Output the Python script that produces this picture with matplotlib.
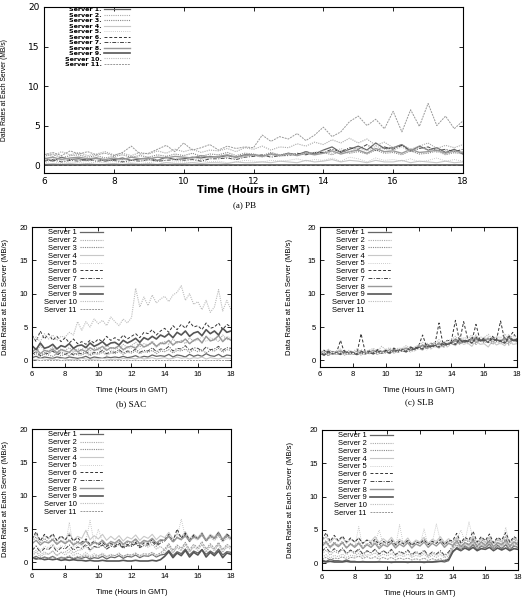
import numpy as np
import matplotlib
matplotlib.use("Agg")
import matplotlib.pyplot as plt

# time axis: every 15 minutes, 6:00 to 18:00 GMT
HOURS = np.arange(6, 18.01, 0.25)
SERVERS = [f"Server {i}" for i in range(1, 12)]
XTICKS = [6, 8, 10, 12, 14, 16, 18]
YTICKS = [0, 5, 10, 15, 20]

# (a) PB -- rows are servers 1..11 (MB/s)
PB = [
    [0.9,0.5,1.0,0.7, 0.8,0.6,0.9,0.5, 0.7,0.9,0.6,0.8, 0.9,0.6,1.0,0.7, 0.8,1.0,0.9,1.1, 1.0,1.2,1.0,1.3, 1.3,1.1,1.4,1.2, 1.5,1.3,1.7,1.4, 1.9,2.3,1.6,2.0, 2.4,1.9,2.8,2.1, 2.2,2.6,1.8,2.4, 1.9,2.2,1.6,2.0, 1.4],
    [1.5,1.1,1.7,1.3, 1.6,1.2,1.4,1.7, 1.3,1.5,1.2,1.6, 1.4,1.8,1.5,2.0, 1.7,2.0,1.6,1.9, 1.8,2.1,1.7,2.2, 2.0,2.4,1.9,2.3, 2.2,2.7,2.4,2.9, 2.6,3.2,2.8,3.4, 2.8,3.3,2.5,2.9, 2.2,2.6,2.0,2.4, 2.8,2.1,2.5,2.2, 2.6],
    [1.1,1.4,0.9,1.2, 1.3,1.0,1.2,0.9, 1.1,1.3,1.0,1.2, 1.0,1.3,1.1,1.4, 1.2,1.5,1.1,1.4, 1.3,1.6,1.2,1.5, 1.4,1.2,1.6,1.3, 1.5,1.3,1.7,1.4, 1.6,1.3,1.8,1.5, 1.7,1.4,1.9,1.5, 1.6,1.3,1.8,1.4, 1.5,1.8,1.3,1.6, 1.4],
    [0.1,0.2,0.1,0.2, 0.1,0.2,0.1,0.1, 0.2,0.1,0.2,0.1, 0.2,0.1,0.3,0.2, 0.2,0.3,0.2,0.3, 0.3,0.2,0.4,0.3, 0.3,0.4,0.3,0.5, 0.4,0.3,0.6,0.4, 0.5,0.7,0.4,0.6, 0.5,0.3,0.6,0.4, 0.4,0.6,0.3,0.5, 0.4,0.3,0.5,0.3, 0.4],
    [0.3,0.5,0.2,0.4, 0.3,0.2,0.4,0.3, 0.2,0.4,0.3,0.2, 0.3,0.5,0.3,0.4, 0.4,0.3,0.5,0.4, 0.5,0.3,0.4,0.6, 0.5,0.4,0.6,0.5, 0.6,0.8,0.5,0.7, 0.6,0.9,0.5,1.0, 0.8,0.4,0.9,0.6, 0.7,0.5,0.8,0.4, 0.6,0.9,0.5,0.7, 0.5],
    [0.0] * 49,
    [0.5,0.7,0.4,0.6, 0.5,0.7,0.5,0.6, 0.6,0.4,0.6,0.5, 0.7,0.5,0.6,0.7, 0.6,0.7,0.5,0.8, 0.8,0.9,0.7,1.0, 1.1,1.3,1.0,1.2, 1.2,1.5,1.3,1.6, 1.6,2.0,1.7,2.2, 2.0,2.6,1.8,2.3, 2.0,2.5,1.7,2.1, 2.3,1.8,2.0,1.7, 2.0],
    [0.8,1.0,0.7,0.9, 1.0,0.8,0.9,0.7, 0.9,0.7,1.0,0.8, 0.8,1.0,0.9,1.1, 1.0,0.9,1.2,1.0, 1.1,1.3,1.0,1.2, 1.3,1.1,1.4,1.2, 1.4,1.2,1.5,1.3, 1.5,1.8,1.4,1.7, 1.9,1.5,2.1,1.7, 1.8,1.5,2.0,1.6, 1.7,1.9,1.5,1.8, 1.6],
    [0.0] * 49,
    [0.6,0.8,0.5,0.7, 0.6,0.5,0.7,0.6, 0.5,0.7,0.6,0.5, 0.6,0.7,0.6,0.8, 0.6,0.8,0.7,0.9, 0.9,1.0,0.8,1.1, 1.2,1.0,1.3,1.1, 1.4,1.3,1.5,1.6, 1.8,1.5,2.1,1.7, 2.2,1.8,2.4,2.0, 1.9,2.3,1.7,2.2, 2.0,1.6,1.9,1.5, 1.7],
    [1.3,1.6,1.2,1.8, 1.4,1.7,1.3,1.5, 1.2,1.6,2.4,1.4, 1.5,2.0,2.5,1.7, 2.8,1.9,2.2,2.6, 1.9,2.4,2.1,2.3, 2.2,3.8,3.0,3.6, 3.3,4.0,3.1,3.8, 4.8,3.6,4.2,5.5, 6.2,5.0,5.8,4.6, 6.8,4.2,7.0,4.9, 7.8,5.0,6.2,4.6, 5.6],
]

# (b) SAC
SAC = [
    [0.4,0.6,0.3,0.5, 0.4,0.3,0.5,0.4, 0.3,0.5,0.4,0.3, 0.4,0.6,0.3,0.5, 0.4,0.3,0.5,0.4, 0.5,0.4,0.6,0.4, 0.5,0.7,0.4,0.6, 0.5,0.8,0.6,0.7, 0.6,0.9,0.5,0.8, 0.7,0.5,0.9,0.6, 0.8,0.6,1.0,0.7, 0.6,0.9,0.5,0.8, 0.7],
    [1.8,1.2,2.2,1.5, 1.4,2.0,1.3,1.7, 1.5,1.9,1.2,1.7, 1.6,2.1,1.4,1.8, 1.9,1.5,2.3,1.7, 2.0,1.6,2.4,1.9, 2.2,2.7,2.0,2.5, 2.3,2.9,2.1,2.6, 2.8,2.4,3.2,2.6, 3.0,2.5,3.4,2.8, 3.2,2.7,3.6,3.0, 3.3,2.8,3.8,3.1, 3.2],
    [0.7,1.0,0.6,0.9, 0.8,0.6,1.0,0.7, 0.9,0.7,1.1,0.8, 0.8,1.1,0.7,1.0, 0.9,1.2,0.8,1.1, 1.0,1.3,0.9,1.2, 1.1,1.4,1.0,1.3, 1.2,1.5,1.0,1.4, 1.3,1.6,1.1,1.5, 1.4,1.7,1.2,1.6, 1.3,1.6,1.1,1.5, 1.4,1.8,1.2,1.6, 1.5],
    [0.2,0.1,0.3,0.2, 0.1,0.2,0.1,0.3, 0.2,0.1,0.2,0.1, 0.3,0.2,0.1,0.2, 0.2,0.3,0.2,0.1, 0.2,0.1,0.3,0.2, 0.3,0.2,0.4,0.2, 0.3,0.4,0.2,0.3, 0.4,0.2,0.3,0.5, 0.3,0.4,0.2,0.4, 0.3,0.5,0.2,0.4, 0.3,0.2,0.4,0.3, 0.3],
    [1.0,1.4,0.9,1.2, 1.1,1.5,1.0,1.3, 1.2,1.0,1.5,1.1, 1.3,1.6,1.1,1.4, 1.5,1.2,1.8,1.4, 1.6,2.0,1.4,1.8, 1.8,2.2,1.6,2.0, 2.1,2.6,1.9,2.4, 2.4,2.9,2.2,2.7, 2.7,3.2,2.4,3.0, 3.0,3.6,2.8,3.4, 3.2,3.9,3.0,3.6, 3.4],
    [3.8,2.8,4.4,3.2, 4.0,3.0,3.6,2.8, 3.4,2.6,3.2,2.5, 2.8,2.4,3.0,2.6, 3.2,2.8,3.6,3.0, 3.4,3.0,3.8,3.2, 3.6,4.0,3.4,4.2, 4.0,4.6,3.8,4.4, 4.8,4.2,5.2,4.6, 5.4,4.8,5.8,5.0, 5.2,4.6,5.6,4.8, 5.0,5.6,4.6,5.4, 5.0],
    [0.9,1.3,0.7,1.1, 1.0,1.4,0.8,1.2, 0.9,1.2,0.8,1.1, 1.0,1.3,0.9,1.2, 1.1,1.5,1.0,1.3, 1.2,1.6,1.1,1.4, 1.3,1.7,1.2,1.5, 1.4,1.9,1.3,1.7, 1.6,2.1,1.4,1.8, 1.7,2.2,1.5,1.9, 1.8,1.4,2.0,1.6, 1.7,2.1,1.5,1.9, 1.8],
    [1.2,1.8,1.0,1.5, 1.3,1.7,1.1,1.6, 1.4,1.2,1.8,1.3, 1.6,1.3,1.9,1.5, 1.7,2.1,1.5,1.9, 1.8,2.2,1.6,2.0, 2.1,1.8,2.5,2.0, 2.3,2.7,2.1,2.6, 2.5,3.0,2.3,2.8, 2.7,3.2,2.5,3.0, 3.3,2.6,3.6,2.9, 3.1,3.7,2.8,3.4, 3.0],
    [2.2,1.6,2.6,1.8, 2.0,2.4,1.7,2.2, 2.0,2.5,1.8,2.2, 2.3,1.9,2.6,2.1, 2.4,2.8,2.2,2.6, 2.7,2.3,3.0,2.6, 2.9,3.3,2.7,3.4, 3.1,3.6,3.2,3.8, 3.5,4.0,3.4,4.2, 3.8,4.4,3.6,4.1, 4.3,3.7,4.6,4.0, 4.4,3.8,4.8,4.2, 4.4],
    [3.0,3.5,2.8,4.0, 3.2,3.8,3.0,3.6, 3.5,4.2,3.8,5.8, 4.5,5.8,5.0,6.2, 5.5,6.0,5.2,6.5, 5.8,5.2,6.2,5.6, 6.4,10.8,8.0,9.5, 8.2,9.8,8.6,9.2, 9.6,8.8,9.8,10.2, 11.2,9.0,10.0,8.4, 8.8,7.6,9.0,7.2, 8.0,10.6,7.4,9.0, 7.6],
    [0.0] * 49,
]

# (c) SLB
SLB = [
    [1.0,1.4,0.8,1.2, 1.0,1.3,0.9,1.1, 1.2,0.9,1.3,1.0, 1.1,1.4,1.0,1.2, 1.3,1.1,1.5,1.3, 1.5,1.8,1.4,1.7, 1.9,2.3,1.8,2.2, 2.1,2.6,2.0,2.5, 2.7,3.2,2.6,3.0, 2.8,3.4,2.7,3.1, 2.9,3.3,2.6,3.2, 2.8,3.4,2.7,3.1, 3.0],
    [1.3,0.8,1.6,1.0, 1.4,0.9,1.5,1.1, 1.3,1.0,1.6,1.2, 1.5,1.1,1.7,1.3, 1.6,1.2,1.9,1.4, 1.8,1.4,2.1,1.6, 2.2,1.8,2.6,2.0, 2.5,2.0,2.9,2.3, 3.0,2.5,3.6,2.8, 3.3,2.6,3.8,2.9, 3.4,2.7,3.6,3.0, 3.2,2.8,3.9,3.1, 3.3],
    [0.8,1.2,0.7,1.1, 0.9,1.3,0.8,1.0, 0.9,1.2,0.8,1.1, 1.0,1.3,0.9,1.2, 1.1,1.4,1.2,1.5, 1.4,1.7,1.3,1.6, 1.7,2.1,1.6,2.0, 2.0,2.4,1.9,2.3, 2.4,2.9,2.3,2.8, 2.5,3.0,2.4,2.9, 2.6,3.1,2.4,2.8, 2.5,3.0,2.3,2.9, 2.7],
    [1.1,0.7,1.3,0.9, 1.0,1.4,0.8,1.2, 1.1,0.8,1.3,1.0, 1.2,0.9,1.4,1.1, 1.3,1.0,1.5,1.2, 1.5,1.2,1.8,1.4, 1.8,1.5,2.2,1.7, 2.2,1.8,2.5,2.0, 2.5,2.2,2.9,2.4, 2.6,2.1,3.0,2.4, 2.5,2.0,2.9,2.3, 2.6,2.2,3.0,2.4, 2.5],
    [1.2,1.6,1.0,1.4, 1.2,1.6,1.0,1.3, 1.1,1.5,1.0,1.3, 1.3,1.7,1.1,1.5, 1.4,1.8,1.3,1.6, 1.6,2.0,1.5,1.9, 2.0,2.4,1.9,2.3, 2.4,2.8,2.2,2.6, 2.8,3.3,2.6,3.1, 3.0,3.5,2.8,3.2, 3.1,3.6,2.9,3.3, 3.0,3.5,2.8,3.4, 3.2],
    [1.0,1.5,0.9,1.3, 1.1,3.0,1.0,1.4, 1.2,1.0,4.0,1.3, 1.4,1.1,1.6,1.3, 1.5,1.3,1.8,1.5, 1.7,1.5,2.0,1.8, 2.1,3.8,2.0,2.5, 2.4,5.6,2.3,3.0, 2.9,6.0,2.8,5.8, 3.2,2.9,5.4,3.0, 3.3,2.8,3.6,3.1, 5.9,3.0,3.4,4.2, 3.2],
    [1.2,0.9,1.4,1.0, 1.3,1.0,1.5,1.1, 1.2,1.0,1.4,1.1, 1.3,1.1,1.5,1.2, 1.4,1.2,1.6,1.4, 1.6,1.4,1.9,1.7, 2.0,1.8,2.4,2.1, 2.3,2.1,2.7,2.4, 2.7,2.5,3.2,2.9, 3.0,2.7,3.5,3.0, 3.1,2.8,3.4,3.0, 3.0,2.7,3.6,3.1, 3.1],
    [0.9,1.3,0.8,1.2, 1.0,1.4,0.9,1.1, 1.0,1.3,0.9,1.2, 1.1,1.5,1.0,1.3, 1.2,1.6,1.1,1.4, 1.4,1.8,1.3,1.6, 1.8,2.2,1.7,2.1, 2.1,2.6,2.0,2.4, 2.5,3.0,2.4,2.8, 2.7,3.2,2.5,3.0, 2.8,3.3,2.6,3.0, 2.7,3.2,2.5,3.1, 2.8],
    [1.1,0.8,1.3,1.0, 1.1,0.9,1.3,1.0, 1.1,0.9,1.2,1.0, 1.2,1.0,1.4,1.1, 1.3,1.1,1.5,1.3, 1.5,1.3,1.8,1.6, 1.9,1.7,2.3,2.0, 2.2,2.0,2.6,2.3, 2.6,2.4,3.1,2.7, 2.9,2.6,3.3,2.9, 3.0,2.7,3.3,2.9, 2.9,2.6,3.4,3.0, 2.9],
    [1.4,1.0,1.7,1.2, 1.3,1.7,1.1,1.5, 1.3,1.7,1.1,1.4, 1.5,1.8,1.3,2.1, 1.6,1.9,1.4,1.8, 1.8,2.2,1.7,2.0, 2.3,2.7,2.1,2.6, 2.6,3.1,2.5,2.9, 3.1,3.6,2.9,3.4, 3.3,3.8,3.1,3.5, 3.4,3.9,3.2,3.6, 3.4,4.0,3.2,3.7, 3.5],
    [1.0,1.3,0.9,1.2, 1.0,1.2,0.9,1.1, 1.0,1.2,0.9,1.1, 1.1,1.3,1.0,1.2, 1.2,1.4,1.1,1.3, 1.4,1.6,1.3,1.5, 1.7,2.0,1.6,1.9, 2.0,2.3,1.9,2.2, 2.4,2.7,2.3,2.6, 2.6,2.9,2.5,2.8, 2.7,3.0,2.6,2.9, 2.6,3.0,2.5,2.8, 2.7],
]

# (d) caption cut off in the reference
PANEL_D = [
    [0.6,0.9,0.5,0.8, 0.6,0.9,0.5,0.7, 0.6,0.8,0.5,0.7, 0.6,0.8,0.5,0.7, 0.6,0.9,0.5,0.8, 0.7,1.0,0.6,0.9, 0.8,1.1,0.7,1.0, 0.9,1.2,0.8,1.1, 1.2,1.8,1.0,1.6, 1.3,2.0,1.1,1.7, 1.4,1.9,1.2,1.7, 1.3,2.0,1.1,1.6, 1.5],
    [1.0,1.5,0.8,1.3, 1.2,1.7,1.0,1.5, 1.5,2.0,1.4,1.8, 1.9,2.4,1.7,2.3, 2.2,2.7,2.0,2.6, 2.3,2.8,2.1,2.6, 2.4,2.9,2.2,2.5, 2.3,2.7,2.0,2.4, 1.8,2.6,1.5,2.3, 1.9,2.8,1.6,2.4, 2.0,2.7,1.7,2.5, 1.9,2.8,1.6,2.4, 2.2],
    [3.2,3.8,2.9,3.6, 3.0,3.6,2.8,3.3, 3.0,3.4,2.7,3.2, 2.8,3.3,2.5,3.0, 2.6,3.1,2.4,2.9, 2.7,3.2,2.5,3.0, 2.8,3.3,2.6,3.1, 3.0,3.5,2.8,3.3, 3.3,3.9,3.1,3.7, 3.4,4.0,3.2,3.8, 3.5,4.1,3.2,3.9, 3.4,4.0,3.1,3.8, 3.5],
    [3.6,4.2,3.3,4.0, 3.5,4.1,3.2,3.8, 3.4,4.4,3.3,3.9, 3.6,4.8,3.4,4.0, 3.5,4.2,3.3,3.9, 3.4,4.0,3.2,3.8, 3.5,4.1,3.3,3.9, 3.6,4.2,3.4,4.0, 3.7,4.5,3.5,4.3, 3.8,4.6,3.5,4.2, 3.7,4.5,3.4,4.2, 3.8,4.6,3.5,4.3, 3.7],
    [2.0,2.6,1.8,2.4, 2.2,2.8,2.0,2.5, 2.3,6.0,2.1,2.7, 2.5,3.2,6.3,2.8, 5.0,3.0,2.5,3.2, 2.8,3.4,2.6,3.1, 2.9,3.5,2.7,3.2, 3.0,3.6,2.8,3.3, 3.2,3.9,3.0,3.7, 6.5,3.8,3.1,3.6, 3.3,4.0,3.1,3.7, 3.2,3.9,3.0,3.6, 3.3],
    [3.5,4.6,3.2,4.2, 3.6,4.3,3.3,4.0, 3.4,4.1,3.2,3.7, 3.0,3.5,2.7,3.2, 2.6,3.0,2.4,2.8, 2.5,2.9,2.3,2.7, 2.6,3.0,2.4,2.9, 2.8,3.4,2.6,3.2, 3.4,4.2,3.1,5.0, 3.6,4.4,3.3,4.1, 3.5,4.3,3.2,4.0, 3.6,4.5,3.3,4.2, 3.8],
    [1.8,2.4,1.5,2.1, 1.9,2.5,1.6,2.2, 2.0,2.6,1.8,2.3, 2.1,2.7,1.9,2.4, 2.2,2.6,2.0,2.4, 2.3,2.7,2.1,2.5, 2.4,2.8,2.2,2.6, 2.6,3.1,2.4,2.9, 3.2,4.0,3.0,3.8, 3.4,4.2,3.1,3.9, 3.5,4.3,3.2,4.0, 3.6,4.4,3.3,4.1, 3.5],
    [2.8,3.3,2.6,3.1, 2.9,3.4,2.7,3.2, 2.8,3.3,2.6,3.0, 2.7,3.2,2.5,3.0, 2.8,3.3,2.6,3.1, 2.9,3.4,2.7,3.2, 3.0,3.5,2.8,3.3, 3.1,3.6,2.9,3.4, 3.3,3.9,3.1,3.7, 3.4,4.0,3.2,3.8, 3.5,4.2,3.3,3.9, 3.6,4.3,3.4,4.0, 3.6],
    [0.7,0.5,0.6,0.4, 0.5,0.4,0.5,0.3, 0.4,0.3,0.4,0.3, 0.3,0.2,0.3,0.2, 0.2,0.3,0.2,0.2, 0.2,0.2,0.3,0.2, 0.2,0.3,0.2,0.2, 0.2,0.3,0.2,0.4, 0.9,1.6,0.7,1.4, 1.0,1.8,0.8,1.5, 1.1,1.9,0.8,1.5, 1.0,1.7,0.7,1.4, 1.2],
    [1.3,1.8,1.1,1.6, 1.2,1.7,1.0,1.5, 1.1,1.6,1.0,1.4, 1.0,1.5,0.9,1.3, 1.0,1.4,0.9,1.2, 1.0,1.4,0.8,1.2, 0.9,1.3,0.8,1.1, 0.9,1.3,0.8,1.2, 1.6,2.4,1.4,2.2, 1.7,2.6,1.5,2.3, 1.8,2.7,1.5,2.4, 1.7,2.6,1.5,2.3, 1.9],
    [0.5,0.8,0.4,0.7, 0.6,0.9,0.5,0.8, 0.7,1.0,0.6,0.9, 0.8,1.1,0.7,1.0, 0.9,1.2,0.8,1.1, 1.0,1.3,0.9,1.2, 1.1,1.4,1.0,1.3, 1.2,1.5,1.1,1.4, 2.0,2.8,1.8,2.6, 2.1,3.0,1.9,2.7, 2.2,3.1,2.0,2.8, 2.1,3.0,1.9,2.7, 2.3],
]

# (e) caption cut off in the reference
PANEL_E = [
    [0.5,0.3,0.6,0.4, 0.4,0.3,0.5,0.3, 0.3,0.2,0.3,0.2, 0.2,0.2,0.3,0.2, 0.2,0.1,0.2,0.2, 0.2,0.1,0.2,0.2, 0.2,0.1,0.2,0.2, 0.2,0.3,0.2,0.4, 1.6,2.4,2.0,2.6, 2.2,2.8,2.0,2.6, 2.3,2.9,2.1,2.7, 2.2,2.8,2.0,2.6, 2.4],
    [1.4,2.0,1.2,1.8, 1.5,2.1,1.3,1.9, 1.4,2.0,1.2,1.8, 1.5,2.1,1.3,1.9, 1.4,2.0,1.2,1.7, 1.3,1.9,1.1,1.6, 1.2,1.8,1.0,1.5, 1.2,1.7,1.0,1.5, 2.4,3.0,2.2,2.8, 2.5,3.2,2.3,2.9, 2.5,3.1,2.2,2.8, 2.6,3.2,2.3,2.9, 2.6],
    [2.8,3.4,2.5,3.2, 2.7,3.3,2.4,3.0, 2.6,3.2,2.4,3.0, 2.7,3.3,2.5,3.1, 2.8,3.4,2.6,3.2, 2.9,3.5,2.7,3.3, 3.0,3.6,2.8,3.3, 3.0,3.6,2.8,3.4, 3.1,3.7,2.9,3.5, 3.2,3.9,3.0,3.6, 3.1,3.8,2.9,3.5, 3.2,3.9,3.0,3.6, 3.1],
    [3.4,4.0,3.1,3.8, 3.3,3.9,3.0,3.6, 3.2,3.8,3.0,3.5, 3.3,4.0,3.1,3.7, 3.2,3.9,3.0,3.6, 3.1,3.8,2.9,3.5, 3.2,3.9,3.0,3.6, 3.3,4.0,3.1,3.7, 3.2,3.9,3.0,3.6, 3.3,4.1,3.1,3.8, 3.2,4.0,3.0,3.7, 3.3,4.1,3.1,3.8, 3.4],
    [2.4,3.0,2.2,2.8, 2.5,3.1,2.3,2.9, 2.4,5.5,2.2,2.8, 2.5,3.2,5.0,2.8, 2.6,3.2,2.4,5.8, 2.6,3.3,2.4,3.0, 2.7,5.2,2.5,3.1, 5.9,3.4,2.6,3.2, 2.8,3.5,5.0,3.3, 6.2,3.6,2.7,3.4, 2.9,3.6,2.7,3.4, 2.9,5.4,2.7,3.4, 3.0],
    [3.5,4.6,3.3,4.2, 3.4,4.1,3.2,3.8, 3.2,3.8,3.0,3.5, 3.0,3.6,2.8,3.3, 3.0,3.5,2.8,3.3, 2.9,3.4,2.7,3.2, 3.0,3.5,2.8,3.3, 3.0,3.6,2.8,3.4, 3.4,4.5,3.1,3.9, 3.5,4.8,3.2,4.0, 3.4,4.4,3.1,3.9, 3.5,4.6,3.2,4.0, 3.6],
    [1.8,2.4,1.6,2.2, 1.7,2.3,1.5,2.0, 1.6,2.2,1.4,1.9, 1.6,2.1,1.4,1.9, 1.5,2.1,1.3,1.8, 1.5,2.0,1.3,1.8, 1.4,2.0,1.2,1.7, 1.4,1.9,1.2,1.7, 2.6,3.4,2.4,3.1, 2.8,3.6,2.5,3.2, 2.7,3.5,2.4,3.1, 2.8,3.6,2.5,3.2, 2.8],
    [2.6,3.2,2.4,3.0, 2.5,3.1,2.3,2.9, 2.4,3.0,2.2,2.8, 2.4,3.0,2.2,2.8, 2.5,3.1,2.3,2.9, 2.5,3.1,2.3,2.9, 2.6,3.2,2.4,3.0, 2.6,3.2,2.4,3.0, 2.7,3.3,2.5,3.1, 2.8,3.4,2.6,3.2, 2.7,3.3,2.5,3.1, 2.8,3.4,2.6,3.2, 2.8],
    [0.3,0.2,0.3,0.2, 0.2,0.2,0.3,0.2, 0.2,0.2,0.2,0.2, 0.2,0.2,0.2,0.2, 0.2,0.2,0.2,0.2, 0.2,0.2,0.2,0.2, 0.2,0.2,0.2,0.2, 0.3,0.3,0.4,0.6, 1.8,2.2,1.9,2.3, 2.0,2.4,1.9,2.2, 2.1,2.4,1.9,2.3, 2.0,2.3,1.9,2.2, 2.1],
    [0.9,1.3,0.8,1.2, 1.0,1.4,0.9,1.2, 1.1,1.5,1.0,1.3, 1.2,1.6,1.0,1.4, 1.1,1.5,0.9,1.3, 1.0,1.4,0.9,1.2, 1.0,1.4,0.8,1.2, 0.9,1.3,0.8,1.1, 2.5,3.1,2.3,2.9, 2.6,3.2,2.4,3.0, 2.5,3.1,2.3,2.9, 2.6,3.2,2.4,3.0, 2.6],
    [0.6,0.9,0.5,0.8, 0.7,1.0,0.6,0.9, 0.8,1.1,0.7,1.0, 0.7,1.0,0.6,0.9, 0.6,0.9,0.5,0.8, 0.6,0.8,0.5,0.7, 0.5,0.8,0.4,0.7, 0.5,0.7,0.4,0.8, 2.2,2.8,2.0,2.6, 2.3,2.9,2.1,2.7, 2.2,2.8,2.0,2.6, 2.3,2.9,2.1,2.7, 2.3],
]

# gnuplot-like monochrome line types for servers 1..11: (colour, dash, width)
STYLES = [
    ("#666666", "-", 0.9),
    ("#aaaaaa", (0, (1, 1)), 0.8),
    ("#888888", (0, (1, 1)), 0.8),
    ("#c8c8c8", "-", 0.8),
    ("#bbbbbb", (0, (1, 1.5)), 0.6),
    ("#333333", (0, (3, 2)), 0.7),
    ("#444444", (0, (4, 1.5, 1, 1.5)), 0.7),
    ("#999999", "-", 1.0),
    ("#555555", "-", 1.2),
    ("#bbbbbb", (0, (1, 1)), 0.8),
    ("#999999", (0, (2, 1)), 0.7),
]

SANS = "Liberation Sans"
WIDE = "DejaVu Sans"
SERIF = "Liberation Serif"


def draw_panel(ax, rows, labels, tick_fs, lab_fs, leg_fs, leg_xy, ylab_x, xlab_y,
               family=SANS, weight="normal", hidden=(), leg_spacing=0.05,
               handle_len=3.0, ylab_fs=5.5):
    for i, (vals, lab) in enumerate(zip(rows, labels)):
        col, ls, lw = STYLES[i]
        if i in hidden:
            col = "white"
        ax.plot(HOURS, vals, color=col, linestyle=ls, linewidth=lw, label=lab)
    ax.set_xlim(6, 18)
    ax.set_ylim(-1, 20)
    ax.set_xticks(XTICKS)
    ax.set_yticks(YTICKS)
    ax.tick_params(direction="in", top=True, right=True, length=3, width=0.6,
                   labelsize=tick_fs, pad=3)
    for t in ax.get_xticklabels() + ax.get_yticklabels():
        t.set_family(family)
    for sp in ax.spines.values():
        sp.set_linewidth(0.8)
    ax.set_xlabel("Time (Hours in GMT)", fontsize=lab_fs, family=family, weight=weight)
    ax.set_ylabel("Data Rates at Each Server (MB/s)", fontsize=ylab_fs, family=SANS)
    ax.xaxis.set_label_coords(0.5, xlab_y)
    ax.yaxis.set_label_coords(ylab_x, 0.5)
    leg = ax.legend(loc="upper left", bbox_to_anchor=leg_xy, frameon=False,
                    markerfirst=False, labelspacing=leg_spacing,
                    handlelength=handle_len, handletextpad=0.4, borderpad=0,
                    borderaxespad=0, prop={"family": family, "size": leg_fs, "weight": weight})
    for t in leg.get_texts():
        t.set_ha("right")
    return leg


fig = plt.figure(figsize=(5.25, 6.03), dpi=100)
W, H = 525.0, 603.0


def add_axes(left, top, right, bottom):
    return fig.add_axes([left / W, 1 - bottom / H, (right - left) / W, (bottom - top) / H])


ax_a = add_axes(44, 7, 463, 173)
ax_b = add_axes(32, 227, 231, 367)
ax_c = add_axes(320, 227, 517, 367)
ax_d = add_axes(32, 429, 231, 569)
ax_e = add_axes(322, 430, 518, 570)

draw_panel(ax_a, PB, [s + "." for s in SERVERS], 6.5, 7.0, 4.6, (0.05, 1.0), -0.085, -0.075,
           family=WIDE, weight="bold", leg_spacing=0.0, handle_len=4.0, ylab_fs=4.9)
draw_panel(ax_b, SAC, SERVERS, 5.5, 5.5, 5.5, (0.06, 0.985), -0.115, -0.145)
draw_panel(ax_c, SLB, SERVERS, 5.5, 5.5, 5.5, (0.06, 0.985), -0.137, -0.145, hidden=(10,))
draw_panel(ax_d, PANEL_D, SERVERS, 5.5, 5.5, 5.5, (0.06, 0.985), -0.114, -0.145)
draw_panel(ax_e, PANEL_E, SERVERS, 5.5, 5.5, 5.5, (0.06, 0.985), -0.141, -0.145)

fig.text(245 / W, 1 - 205 / H, "(a) PB", family=SERIF, fontsize=6.5, ha="center", va="center")
fig.text(131 / W, 1 - 404 / H, "(b) SAC", family=SERIF, fontsize=6.5, ha="center", va="center")
fig.text(419 / W, 1 - 402 / H, "(c) SLB", family=SERIF, fontsize=6.5, ha="center", va="center")

fig.savefig("out.png", dpi=100)
